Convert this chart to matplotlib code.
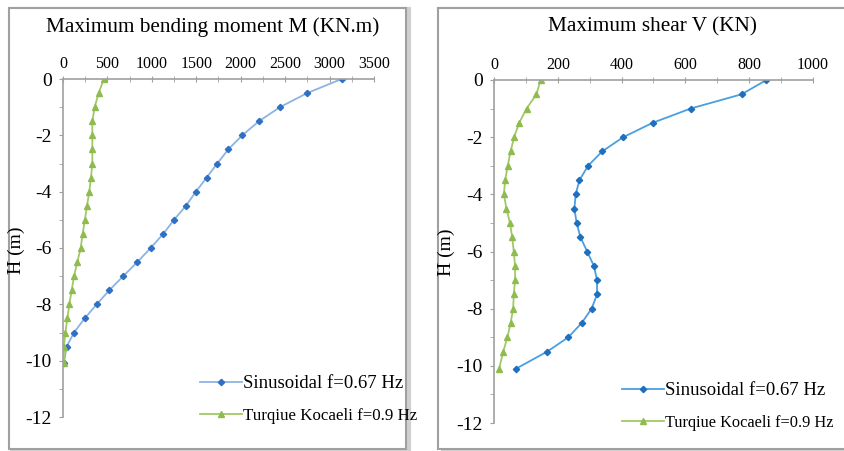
import matplotlib
matplotlib.use("Agg")
import matplotlib.pyplot as plt
from matplotlib.patches import Rectangle
from matplotlib.ticker import MultipleLocator

plt.rcParams['font.family'] = ['Liberation Serif', 'DejaVu Serif']
plt.rcParams['axes.unicode_minus'] = False

depth = [0, -0.5, -1, -1.5, -2, -2.5, -3, -3.5, -4, -4.5, -5, -5.5, -6, -6.5,
         -7, -7.5, -8, -8.5, -9, -9.5, -10.1]

moment_sin = [3135, 2748, 2441, 2205, 2017, 1860, 1736, 1616, 1496, 1384, 1249,
              1128, 986, 836, 678, 521, 379, 244, 124, 41, 10]
moment_koc = [460, 401, 356, 330, 330, 330, 330, 315, 296, 270, 247,
              221, 199, 161, 124, 98, 71, 49, 26, 11, 11]

shear_sin = [854, 776, 616, 497, 405, 339, 295, 268, 256, 252, 259,
             271, 292, 313, 323, 323, 306, 275, 233, 167, 69]
shear_koc = [146, 133, 102, 79, 63, 52, 43, 35, 31, 39, 50,
             57, 62, 66, 66, 62, 60, 52, 42, 29, 16]

label_sin = "Sinusoidal f=0.67 Hz"
label_koc = "Turqiue Kocaeli f=0.9 Hz"

W, H = 845, 451
fig = plt.figure(figsize=(W / 100, H / 100), dpi=100)

def fx(px):
    return px / W

def fy(py):
    return 1 - py / H

# panel borders with shadow
for (x0, y0, x1, y1) in [(9, 8, 406, 449), (438, 8, 846, 449)]:
    fig.patches.append(Rectangle((fx(x0 + 3), fy(y1 + 1)), fx(x1 - x0), (y1 - y0) / H,
                                 transform=fig.transFigure, facecolor='none',
                                 edgecolor='#d0d0d0', lw=3, zorder=0))
    fig.patches.append(Rectangle((fx(x0), fy(y1)), fx(x1 - x0), (y1 - y0) / H,
                                 transform=fig.transFigure, facecolor='white',
                                 edgecolor='#a0a0a0', lw=1.5, zorder=1))

def setup(ax, xmax, major, minor, title, title_x):
    ax.set_xlim(0, xmax)
    ax.set_ylim(-12, 0)
    ax.xaxis.tick_top()
    ax.xaxis.set_major_locator(MultipleLocator(major))
    ax.xaxis.set_minor_locator(MultipleLocator(minor))
    ax.yaxis.set_major_locator(MultipleLocator(2))
    ax.yaxis.set_minor_locator(MultipleLocator(1))
    for s in ['right', 'bottom']:
        ax.spines[s].set_visible(False)
    for s in ['left', 'top']:
        ax.spines[s].set_color('#a0a0a0')
        ax.spines[s].set_linewidth(1.2)
    ax.tick_params(axis='x', which='both', direction='inout', colors='#a0a0a0',
                   labelcolor='black', labelsize=11.5, length=4, pad=3)
    ax.tick_params(axis='y', which='both', direction='out', colors='#a0a0a0',
                   labelcolor='black', labelsize=14, length=3, pad=5)
    ax.set_ylabel("H (m)", fontsize=14, labelpad=2)
    fig.text(title_x, fy(27), title, ha='center', va='center', fontsize=15.3)
    ax.patch.set_alpha(0)

def legend(ax, x, y, koc_size):
    leg = ax.legend(loc='lower left', bbox_to_anchor=(fx(x), fy(y)),
                    bbox_transform=fig.transFigure, frameon=False, fontsize=13,
                    handlelength=2.3, handletextpad=0.1, labelspacing=0.85,
                    borderaxespad=0, borderpad=0)
    leg.get_texts()[0].set_fontsize(13.5)
    leg.get_texts()[1].set_fontsize(koc_size)

ax1 = fig.add_axes([fx(63), fy(417), fx(374 - 63), (417 - 79) / H])
ax1.set_zorder(2)
setup(ax1, 3500, 500, 250, "Maximum bending moment M (KN.m)", fx(213))
ax1.yaxis.set_label_coords(fx(25), fy(250), transform=fig.transFigure)
ax1.plot(moment_sin, depth, color='#8cb4e2', lw=1.3, marker='D', ms=3.2,
         mfc='#2f6fc4', mec='#2f6fc4', label=label_sin)
ax1.plot(moment_koc, depth, color='#a2c866', lw=1.3, marker='^', ms=4.5,
         mfc='#8fbc4e', mec='#8fbc4e', label=label_koc)
legend(ax1, 200, 424, 12.2)

ax2 = fig.add_axes([fx(494), fy(423), fx(813 - 494), (423 - 80) / H])
ax2.set_zorder(2)
setup(ax2, 1000, 200, 100, "Maximum shear V (KN)", fx(652))
ax2.yaxis.set_label_coords(fx(455), fy(252), transform=fig.transFigure)
ax2.plot(shear_sin, depth, color='#4a9fe0', lw=1.3, marker='D', ms=3.2,
         mfc='#1f6fc0', mec='#1f6fc0', label=label_sin)
ax2.plot(shear_koc, depth, color='#a2c866', lw=1.3, marker='^', ms=4.5,
         mfc='#8fbc4e', mec='#8fbc4e', label=label_koc)
legend(ax2, 622, 431, 11.8)

fig.savefig("out.png", dpi=100)
